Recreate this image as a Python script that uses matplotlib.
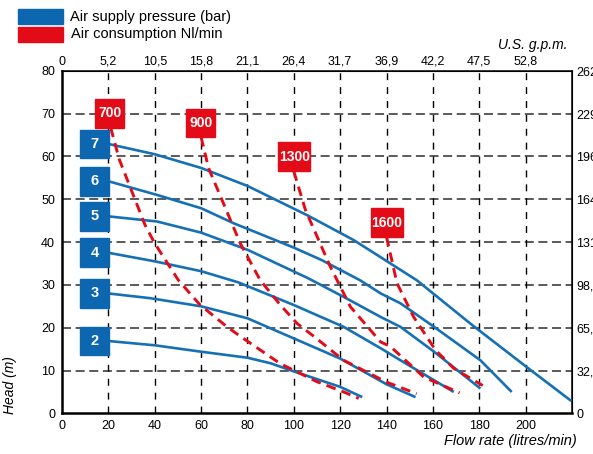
import matplotlib.pyplot as plt
from matplotlib.patches import Rectangle

plt.rcParams['font.family'] = ['Liberation Sans', 'DejaVu Sans']
plt.rcParams['lines.scale_dashes'] = False

# Blue curves: air supply pressure (bar) -> (flow l/min, head m)
p2_x = [20, 40, 60, 80, 90, 100, 120, 129.5]
p2_y = [16.9, 15.9, 14.4, 13.0, 11.7, 9.8, 6.2, 3.8]
p3_x = [20, 38, 60, 80, 100, 120, 140, 152.5]
p3_y = [28.0, 26.9, 25.0, 22.2, 17.5, 12.8, 6.8, 3.8]
p4_x = [20, 40, 60, 76, 100, 121.5, 137.5, 146, 169]
p4_y = [37.5, 35.5, 33.2, 30.6, 25.3, 20.2, 15.2, 12.4, 5.0]
p5_x = [20, 41, 60, 80, 106, 121.5, 137.5, 146, 160.5, 180.5]
p5_y = [46.0, 44.8, 42.2, 38.2, 31.6, 27.2, 22.5, 20.2, 14.4, 5.8]
p6_x = [20, 41, 60, 74, 100, 112, 128.5, 137.5, 146, 160.5, 180.5, 194]
p6_y = [54.2, 51.0, 47.9, 44.4, 38.7, 35.8, 31.1, 28.0, 25.7, 20.2, 12.4, 5.0]
p7_x = [20, 40, 60, 80, 106, 126, 153, 177, 200.5, 219.7]
p7_y = [62.9, 60.5, 57.3, 53.1, 46.2, 40.4, 31.1, 20.6, 10.8, 2.9]
pressures = ['2', '3', '4', '5', '6', '7']
pressure_curves = [(p2_x, p2_y), (p3_x, p3_y), (p4_x, p4_y),
                   (p5_x, p5_y), (p6_x, p6_y), (p7_x, p7_y)]

# Red dashed curves: air consumption Nl/min
c700_x = [21, 24.7, 35.8, 40, 50.2, 59.6, 71, 76.9, 94.2, 110, 121.5, 128]
c700_y = [66.7, 59.3, 44.0, 39.7, 31.1, 25.3, 20.3, 18.0, 11.6, 7.4, 5.0, 3.5]
c900_x = [60, 63.2, 76.9, 85.5, 94.2, 101.4, 108.6, 121.5, 140, 153]
c900_y = [64.5, 57.3, 39.7, 31.1, 25.3, 21.0, 18.0, 12.4, 7.3, 4.6]
c1300_x = [100, 105, 115.7, 124.4, 137.4, 141.7, 156, 171.5]
c1300_y = [56.5, 47.5, 34.3, 24.9, 16.7, 15.6, 8.5, 4.8]
c1600_x = [140, 144.5, 151.6, 161.1, 169, 181.5]
c1600_y = [41.2, 30.4, 22.6, 14.8, 10.5, 6.5]
consumptions = ['700', '900', '1300', '1600']
consumption_curves = [(c700_x, c700_y), (c900_x, c900_y),
                      (c1300_x, c1300_y), (c1600_x, c1600_y)]
# label box centres (flow, head)
consumption_label_pos = [(20.5, 70.05), (59.9, 67.8), (100.2, 59.9), (140, 44.5)]

flow_ticks = [0, 20, 40, 60, 80, 100, 120, 140, 160, 180, 200]
gpm_labels = ['0', '5,2', '10,5', '15,8', '21,1', '26,4', '31,7', '36,9', '42,2', '47,5', '52,8']
head_ticks = [0, 10, 20, 30, 40, 50, 60, 70, 80]
feet_labels = ['0', '32,8', '65,6', '98,4', '131,2', '164', '196,8', '229,6', '262,4']

blue = '#1670b6'
box_blue = '#0d66b0'
red = '#e30b17'

fig = plt.figure(figsize=(5.93, 4.54), dpi=100)
ax = fig.add_axes([62 / 593, 1 - 413.4 / 454, 510 / 593, 342.7 / 454])
ax.set_xlim(0, 220)
ax.set_ylim(0, 80)

# grid
for h in head_ticks[1:-1]:
    ax.axhline(h, color='#5a5a5a', lw=1.4, dashes=(6.5, 3.3), zorder=1)
for f in flow_ticks[1:]:
    ax.axvline(f, color='black', lw=1.0, dashes=(5, 5), zorder=1)

for x, y in pressure_curves:
    ax.plot(x, y, color=blue, lw=1.9, zorder=3, solid_capstyle='butt')
for x, y in consumption_curves:
    ax.plot(x, y, color=red, lw=2.1, dashes=(7, 4.5), zorder=4)

# pressure boxes
for lab, (x, y) in zip(pressures, pressure_curves):
    ax.add_patch(Rectangle((7.8, y[0] - 3.35), 12.4, 6.7, color=box_blue, zorder=5))
    ax.text(14, y[0], lab, color='white', fontsize=10.5, fontweight='bold',
            ha='center', va='center', zorder=6)

# consumption boxes
for lab, (cx, cy) in zip(consumptions, consumption_label_pos):
    w = 12.5 if len(lab) == 3 else 13.8
    ax.add_patch(Rectangle((cx - w / 2, cy - 3.35), w, 6.7, color=red, zorder=5))
    ax.text(cx, cy, lab, color='white', fontsize=10, fontweight='bold',
            ha='center', va='center', zorder=6)

ax.set_xticks(flow_ticks)
ax.set_yticks(head_ticks)
ax.tick_params(length=0, labelsize=9, pad=5)
ax.spines['left'].set_linewidth(1.8)
ax.spines['bottom'].set_linewidth(1.8)
ax.spines['top'].set_linewidth(1.1)
ax.spines['right'].set_linewidth(1.1)

top = ax.secondary_xaxis('top')
top.set_xticks(flow_ticks, gpm_labels)
top.tick_params(length=0, labelsize=9, pad=2)
right = ax.secondary_yaxis('right')
right.set_yticks(head_ticks, feet_labels)
right.tick_params(length=0, labelsize=9, pad=3)

# legend
fig.patches.append(Rectangle((18.3 / 593, 1 - 24 / 454), 45 / 593, 15 / 454,
                             color=box_blue, transform=fig.transFigure))
fig.patches.append(Rectangle((18.3 / 593, 1 - 42.3 / 454), 45 / 593, 15 / 454,
                             color=red, transform=fig.transFigure))
fig.text(70 / 593, 1 - 16.5 / 454, 'Air supply pressure (bar)', fontsize=10.5, va='center')
fig.text(71 / 593, 1 - 34 / 454, 'Air consumption Nl/min', fontsize=10.5, va='center')

fig.text(568 / 593, 1 - 45 / 454, 'U.S. g.p.m.', fontsize=10, style='italic',
         ha='right', va='center')
fig.text(577 / 593, 1 - 441 / 454, 'Flow rate (litres/min)', fontsize=10.5, style='italic',
         ha='right', va='center')
fig.text(10 / 593, 1 - 385 / 454, 'Head (m)', fontsize=10, style='italic',
         rotation=90, ha='center', va='center')

fig.savefig('out.png', dpi=100)
